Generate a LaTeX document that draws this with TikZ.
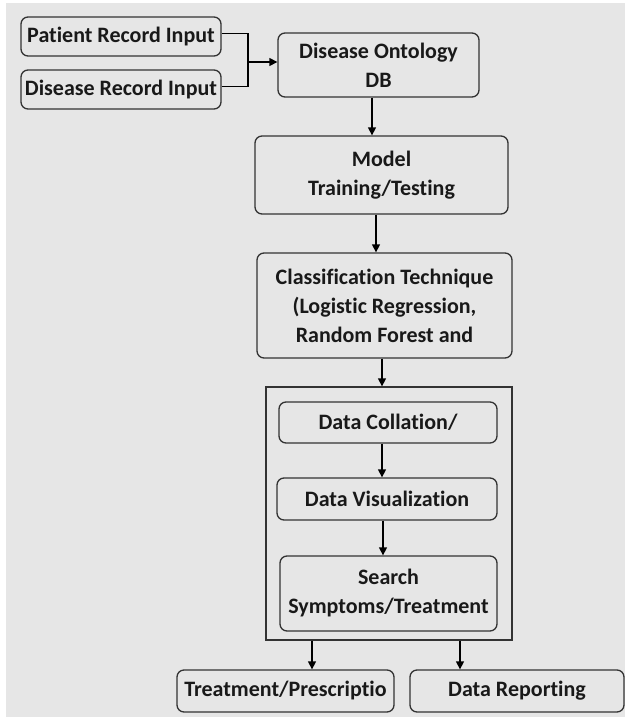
\documentclass[tikz,border=0pt]{standalone}
\usepackage{fontspec}
\setmainfont{Carlito}[Ligatures=NoCommon]
\usepackage{tikz}
\usetikzlibrary{positioning,calc,arrows.meta}
\tikzset{>={Triangle[length=8pt,width=8pt]}}
\definecolor{bgray}{HTML}{E6E6E6}
\definecolor{lgray}{HTML}{333333}
\tikzset{
  box/.style={draw=lgray,line width=1.3pt,rounded corners=7pt,align=center,
    font=\fontsize{22}{29}\selectfont\bfseries,text=black!90,inner sep=0pt},
  arr/.style={->,draw=black,line width=1.3pt},
  lnk/.style={draw=black,line width=1.1pt}
}

\begin{document}
\begin{tikzpicture}[x=1pt,y=-1pt]
\useasboundingbox (0,0) rectangle (625,717);
\fill[bgray] (6,3) rectangle (625,717);
% inputs
\node[box,minimum width=200pt,minimum height=39pt] (pat) at (121,36.5) {Patient Record Input};
\node[box,minimum width=200pt,minimum height=39pt] (dis) at (121,89.5) {Disease Record Input};
\node[box,minimum width=201pt,minimum height=64pt] (onto) at (378.5,65) {Disease Ontology\\DB};
% main column
\node[box,minimum width=253pt,minimum height=78pt] (model) at (381.5,175) {Model\\Training/Testing};
\node[box,minimum width=255pt,minimum height=105pt] (clas) at (384.5,305.5)
  {Classification Technique\\(Logistic Regression,\\Random Forest and};
\node[draw=lgray,line width=1.3pt,minimum width=246pt,minimum height=253pt,inner sep=0pt] (grp) at (389,513.5) {};
\node[box,minimum width=218pt,minimum height=41pt] (coll) at (388,422.5) {Data Collation/};
\node[box,minimum width=220pt,minimum height=42pt] (vis) at (387,499) {Data Visualization};
\node[box,minimum width=217pt,minimum height=75pt] (srch) at (388.5,593.5) {Search\\Symptoms/Treatment};
% outputs
\node[box,minimum width=217pt,minimum height=42pt] (treat) at (285.5,691) {Treatment/Prescriptio};
\node[box,minimum width=214pt,minimum height=42pt] (rep) at (517,691) {Data Reporting};
% connectors
\coordinate (jn) at (248,62);
\draw[lnk] ([yshift=3pt]pat.east) -| (jn);
\draw[lnk] ([yshift=3pt]dis.east) -| (jn);
\draw[arr] (jn) -- (jn -| onto.west);
\draw[arr] ([xshift=-6.5pt]onto.south) -- ([xshift=-6.5pt]onto.south |- model.north);
\draw[arr] ([xshift=-5.5pt]model.south) -- ([xshift=-5.5pt]model.south |- clas.north);
\draw[arr] ([xshift=-2.5pt]clas.south) -- ([xshift=-2.5pt]clas.south |- grp.north);
\draw[arr] ([xshift=-6pt]coll.south) -- ([xshift=-6pt]coll.south |- vis.north);
\draw[arr] ([xshift=-4pt]vis.south) -- ([xshift=-4pt]vis.south |- srch.north);
\draw[arr] ([xshift=26.5pt]treat.north |- grp.south) -- ([xshift=26.5pt]treat.north);
\draw[arr] ([xshift=-57pt]rep.north |- grp.south) -- ([xshift=-57pt]rep.north);
\end{tikzpicture}
\end{document}
